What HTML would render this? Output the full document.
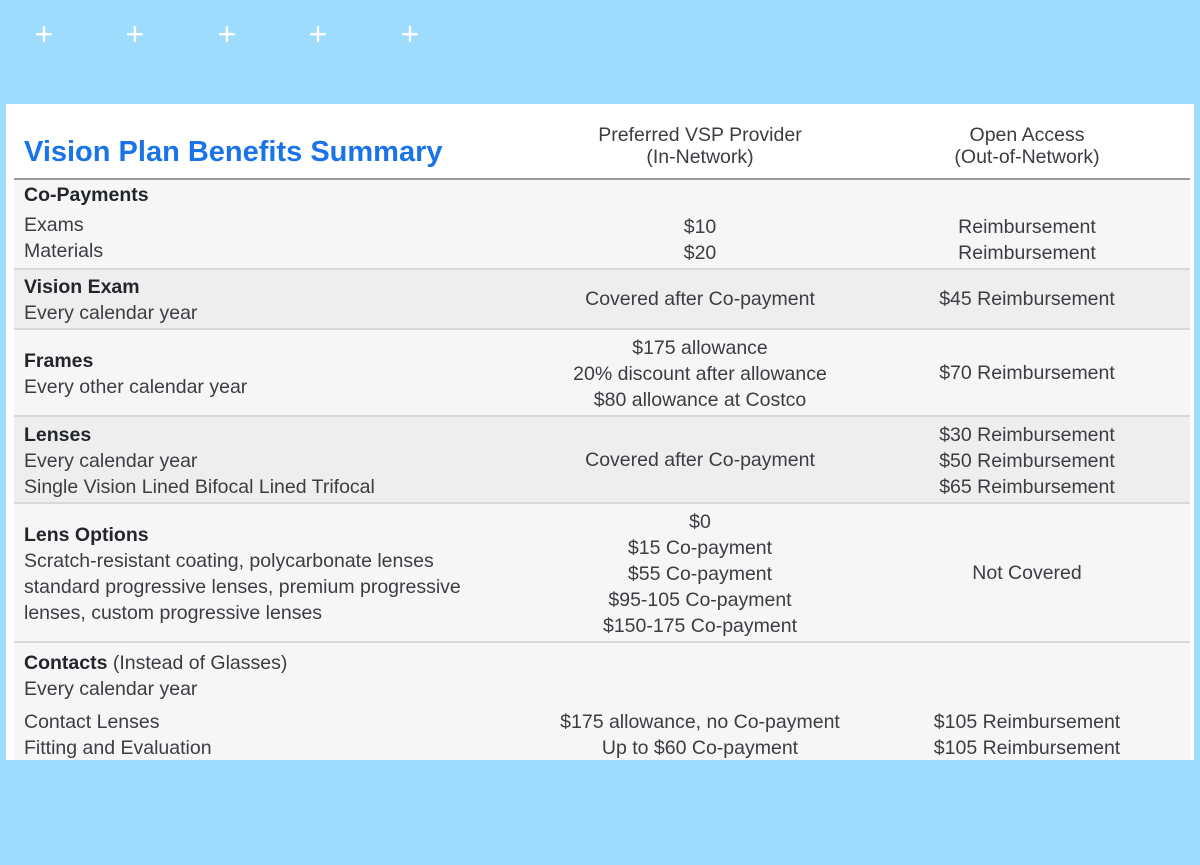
<!DOCTYPE html>
<html><head><meta charset="utf-8"><style>
body{margin:0;width:1200px;height:865px;background:#9edcfe;position:relative;overflow:hidden;font-family:"Liberation Sans",sans-serif;}
.plus{position:absolute;top:20px;width:24px;height:28px;color:#fff;font-size:32px;line-height:28px;text-align:center;font-weight:300}
#panel{position:absolute;left:6px;top:104px;width:1188px;height:656px;background:#fff}
.row{position:absolute;left:14px;width:1176px;}
.t{position:absolute;font-size:19.5px;line-height:22px;color:#3a3d42;white-space:nowrap}
.b{font-weight:bold;color:#22262c}
.c1{left:500px;width:400px;text-align:center}
.c2{left:877px;width:300px;text-align:center}
.l{left:24px}
</style></head><body>
<div class="plus" style="left:32px">+</div>
<div class="plus" style="left:123px">+</div>
<div class="plus" style="left:215px">+</div>
<div class="plus" style="left:306px">+</div>
<div class="plus" style="left:398px">+</div>
<div id="panel"></div>
<div class="row" style="top:178px;height:90px;background:#f6f6f6;border-top:2px solid #9a9a9a;box-sizing:border-box"></div>
<div class="row" style="top:268px;height:60px;background:#eeeeee;border-top:2px solid #d8d8d8;box-sizing:border-box"></div>
<div class="row" style="top:328px;height:87px;background:#f6f6f6;border-top:2px solid #d8d8d8;box-sizing:border-box"></div>
<div class="row" style="top:415px;height:87px;background:#eeeeee;border-top:2px solid #d8d8d8;box-sizing:border-box"></div>
<div class="row" style="top:502px;height:139px;background:#f6f6f6;border-top:2px solid #d8d8d8;box-sizing:border-box"></div>
<div class="row" style="top:641px;height:119px;background:#f6f6f6;border-top:2px solid #d8d8d8;box-sizing:border-box"></div>

<div class="t" style="left:24px;top:135px;font-size:29px;line-height:34px;font-weight:bold;color:#1a73e8">Vision Plan Benefits Summary</div>
<div class="t c1" style="top:124px">Preferred VSP Provider<br>(In-Network)</div>
<div class="t c2" style="top:124px">Open Access<br>(Out-of-Network)</div>

<div class="t l b" style="top:184px">Co-Payments</div>
<div class="t l" style="top:214px">Exams<br><span style="position:relative;top:4px">Materials</span></div>
<div class="t c1" style="top:214px;line-height:26px">$10<br>$20</div>
<div class="t c2" style="top:214px;line-height:26px">Reimbursement<br>Reimbursement</div>

<div class="t l" style="top:274px;line-height:26px"><span class="b">Vision Exam</span><br>Every calendar year</div>
<div class="t c1" style="top:288px">Covered after Co-payment</div>
<div class="t c2" style="top:288px">$45 Reimbursement</div>

<div class="t l" style="top:348px;line-height:26px"><span class="b">Frames</span><br>Every other calendar year</div>
<div class="t c1" style="top:335px;line-height:26px">$175 allowance<br>20% discount after allowance<br>$80 allowance at Costco</div>
<div class="t c2" style="top:362px">$70 Reimbursement</div>

<div class="t l" style="top:422px;line-height:26px"><span class="b">Lenses</span><br>Every calendar year<br>Single Vision Lined Bifocal Lined Trifocal</div>
<div class="t c1" style="top:449px">Covered after Co-payment</div>
<div class="t c2" style="top:422px;line-height:26px">$30 Reimbursement<br>$50 Reimbursement<br>$65 Reimbursement</div>

<div class="t l" style="top:522px;line-height:26px"><span class="b">Lens Options</span><br>Scratch-resistant coating, polycarbonate lenses<br>standard progressive lenses, premium progressive<br>lenses, custom progressive lenses</div>
<div class="t c1" style="top:509px;line-height:26px">$0<br>$15 Co-payment<br>$55 Co-payment<br>$95-105 Co-payment<br>$150-175 Co-payment</div>
<div class="t c2" style="top:562px">Not Covered</div>

<div class="t l" style="top:650px;line-height:26px"><span class="b">Contacts</span> (Instead of Glasses)<br>Every calendar year</div>
<div class="t l" style="top:709px;line-height:26px">Contact Lenses<br>Fitting and Evaluation</div>
<div class="t c1" style="top:709px;line-height:26px">$175 allowance, no Co-payment<br>Up to $60 Co-payment</div>
<div class="t c2" style="top:709px;line-height:26px">$105 Reimbursement<br>$105 Reimbursement</div>
</body></html>
